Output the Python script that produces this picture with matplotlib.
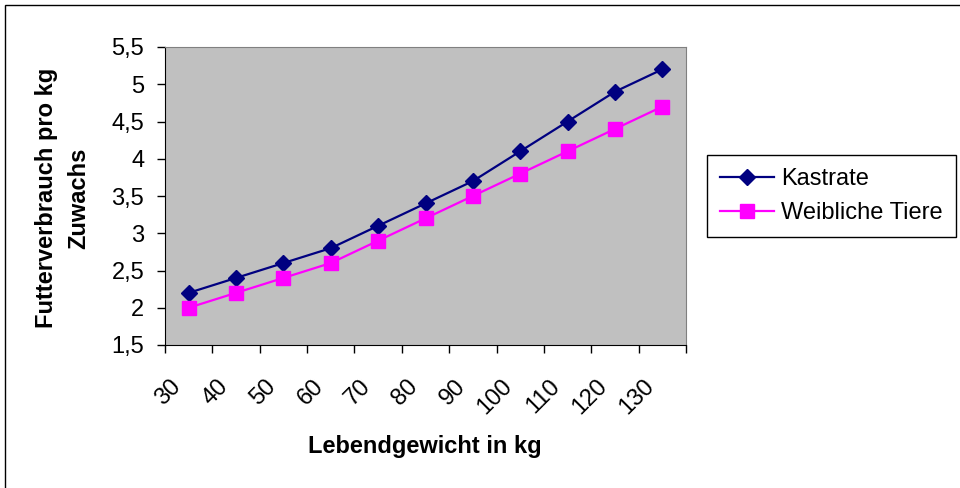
import matplotlib
matplotlib.use("Agg")
import matplotlib.pyplot as plt
from matplotlib.patches import Rectangle
from matplotlib.transforms import ScaledTranslation

plt.rcParams['font.family'] = ['Liberation Sans', 'DejaVu Sans']

gewicht = ['30', '40', '50', '60', '70', '80', '90', '100', '110', '120', '130']
kastrate = [2.2, 2.4, 2.6, 2.8, 3.1, 3.4, 3.7, 4.1, 4.5, 4.9, 5.2]
weibliche = [2.0, 2.2, 2.4, 2.6, 2.9, 3.2, 3.5, 3.8, 4.1, 4.4, 4.7]
y_ticks = [1.5, 2, 2.5, 3, 3.5, 4, 4.5, 5, 5.5]

W, H = 960, 488
FS = 17
fig = plt.figure(figsize=(W / 100, H / 100), dpi=100)

# outer chart frame (right and bottom edges cut off like in the original)
fig.patches.append(Rectangle((5 / W, -0.1), 1.2, 1 - 5 / H + 0.1, transform=fig.transFigure,
                             fill=False, edgecolor='black', linewidth=1))

ax = fig.add_axes([165 / W, (H - 345) / H, (686 - 165) / W, (345 - 47) / H])
ax.set_facecolor('#C0C0C0')

x = list(range(len(gewicht)))
ax.plot(x, kastrate, color='#000080', linewidth=1.6, marker='D', markersize=8.5,
        label='Kastrate')
ax.plot(x, weibliche, color='#FF00FF', linewidth=1.6, marker='s', markersize=10,
        label='Weibliche Tiere')

ax.set_xlim(-0.5, len(gewicht) - 0.5)
ax.set_ylim(1.5, 5.5)

ax.set_xticks([i - 0.5 for i in range(len(gewicht) + 1)])
ax.set_xticklabels([])
ax.set_yticks(y_ticks)
ax.set_yticklabels([f"{v:g}".replace('.', ',') for v in y_ticks], fontsize=FS)
ax.tick_params(direction='out', length=6, width=1, color='black')
ax.tick_params(axis='y', pad=9)

off = ScaledTranslation(-11 / 100, -38 / 100, fig.dpi_scale_trans)
for i, lab in enumerate(gewicht):
    ax.text(i, 0, lab, transform=ax.get_xaxis_transform() + off, rotation=45,
            rotation_mode='anchor', ha='right', va='center', fontsize=FS)

for side in ['top', 'right']:
    ax.spines[side].set_color('#808080')
for side in ['left', 'bottom']:
    ax.spines[side].set_color('black')

fig.text(63 / W, 1 - 198 / H, 'Futterverbrauch pro kg\nZuwachs', rotation=90,
         ha='center', va='center', multialignment='center', fontsize=FS,
         fontweight='bold', linespacing=1.5)
fig.text(425 / W, 1 - 447 / H, 'Lebendgewicht in kg', ha='center', va='center',
         fontsize=FS, fontweight='bold')

leg = ax.legend(loc='upper left', bbox_to_anchor=(707 / W, 1 - 155 / H),
                bbox_transform=fig.transFigure, fontsize=FS, frameon=True,
                fancybox=False, edgecolor='black', framealpha=1,
                handlelength=2.3, handletextpad=0.3, labelspacing=0.5,
                borderpad=0.55, borderaxespad=0)
leg.get_frame().set_linewidth(1)

fig.savefig('out.png', dpi=100)
